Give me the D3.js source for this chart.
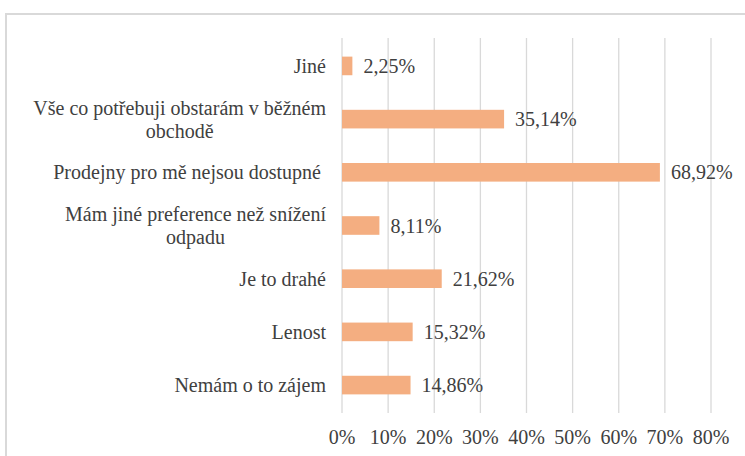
<!DOCTYPE html>
<html>
<head>
<meta charset="utf-8">
<script src="https://cdn.jsdelivr.net/npm/d3@7"></script>
<style>
  body { margin: 0; background: #fff; }
  svg text { fill: #404040; }
</style>
</head>
<body>
<div id="chart"></div>
<script>
// Data
const categories = [
  ["Jiné"],
  ["Vše co potřebuji obstarám v běžném", "obchodě"],
  ["Prodejny pro mě nejsou dostupné "],
  ["Mám jiné preference než snížení", "odpadu"],
  ["Je to drahé"],
  ["Lenost"],
  ["Nemám o to zájem"]
];
const values = [2.25, 35.14, 68.92, 8.11, 21.62, 15.32, 14.86];
const ticks = [0, 10, 20, 30, 40, 50, 60, 70, 80];

const W = 745, H = 456;
const margin = { top: 38, right: 34, bottom: 43, left: 342 };
const fontFam = "'Liberation Serif', 'DejaVu Serif', 'Times New Roman', Times, serif";
const fs = "20px";

const svg = d3.select("#chart").append("svg")
  .attr("width", W)
  .attr("height", H)
  .style("font-family", fontFam);

// outer chart border (cut off at right and bottom)
svg.append("rect")
  .attr("x", 6).attr("y", 14)
  .attr("width", W + 10).attr("height", H + 10)
  .attr("fill", "none")
  .attr("stroke", "#d9d9d9")
  .attr("stroke-width", 2);

const x = d3.scaleLinear().domain([0, 80]).range([margin.left, W - margin.right]);
const y = d3.scaleBand()
  .domain(d3.range(categories.length))
  .range([margin.top, H - margin.bottom])
  .paddingInner(0.65)
  .paddingOuter(0.35);

const fmt = v => d3.format(".2f")(v).replace(".", ",") + "%";

// gridlines
svg.append("g").selectAll("line")
  .data(ticks)
  .join("line")
  .attr("x1", d => x(d)).attr("x2", d => x(d))
  .attr("y1", margin.top).attr("y2", H - margin.bottom)
  .attr("stroke", "#d9d9d9")
  .attr("stroke-width", 1.3);

// tick labels
svg.append("g").selectAll("text")
  .data(ticks)
  .join("text")
  .attr("x", d => x(d))
  .attr("y", H - 12)
  .attr("text-anchor", "middle")
  .style("font-size", fs)
  .text(d => d + "%");

// bars
svg.append("g").selectAll("rect")
  .data(values)
  .join("rect")
  .attr("x", x(0))
  .attr("y", (d, i) => y(i))
  .attr("width", d => x(d) - x(0))
  .attr("height", y.bandwidth())
  .attr("fill", "#f4ae81");

// value labels
svg.append("g").selectAll("text")
  .data(values)
  .join("text")
  .attr("x", d => x(d) + 11)
  .attr("y", (d, i) => y(i) + y.bandwidth() / 2)
  .attr("dy", "0.35em")
  .style("font-size", fs)
  .text(d => fmt(d));

// category labels, lines centred on each other, block right-aligned
const labelRight = 326;
const lineH = 23;
categories.forEach((lines, i) => {
  const g = svg.append("g");
  const cy = y(i) + y.bandwidth() / 2;
  const t = g.selectAll("text")
    .data(lines)
    .join("text")
    .style("font-size", fs)
    .style("white-space", "pre")
    .attr("text-anchor", "middle")
    .attr("y", (d, j) => cy + (j - (lines.length - 1) / 2) * lineH)
    .attr("dy", "0.35em")
    .text(d => d);
  const maxW = d3.max(t.nodes(), n => n.getComputedTextLength());
  t.attr("x", labelRight - maxW / 2);
});
</script>
</body>
</html>
